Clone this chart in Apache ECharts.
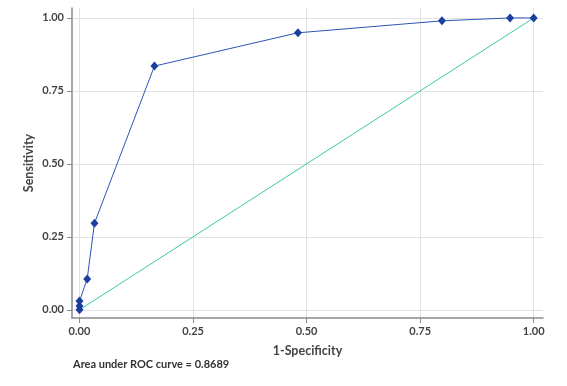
<!DOCTYPE html>
<html>
<head>
<meta charset="utf-8">
<script src="https://cdn.jsdelivr.net/npm/echarts@6/dist/echarts.min.js"></script>
<style>
  html, body { margin: 0; padding: 0; background: #fff; }
  #chart { width: 567px; height: 386px; }
</style>
</head>
<body>
<div id="chart"></div>
<script>
// ROC points
var fpr = [0, 0, 0, 0.017, 0.033, 0.165, 0.481, 0.798, 0.948, 1];
var tpr = [0, 0.013, 0.030, 0.106, 0.297, 0.835, 0.949, 0.990, 1.0, 1.0];
var refX = [0, 1];
var refY = [0, 1];
var tickValues = [0, 0.25, 0.5, 0.75, 1];
var aucText = 'Area under ROC curve = 0.8689';

var font = 'Lato';

var chart = echarts.init(document.getElementById('chart'));

var rocData = fpr.map(function (x, i) { return [x, tpr[i]]; });
var refData = refX.map(function (x, i) { return [x, refY[i]]; });

function axisBase(name, gap, extra) {
  var a = {
    type: 'value',
    name: name,
    nameLocation: 'middle',
    nameGap: gap,
    nameMoveOverlap: false,
    nameTextStyle: { color: '#444', fontSize: 12.5, fontWeight: 'bold', fontFamily: font },
    axisLine: { show: true, onZero: false, lineStyle: { color: '#8a8a8a', width: 1.5 } },
    axisTick: { show: true, length: 5, customValues: tickValues, lineStyle: { color: '#8a8a8a' } },
    axisLabel: {
      customValues: tickValues,
      color: '#444', fontSize: 11, fontWeight: 'bold', fontFamily: font,
      formatter: function (v) { return v.toFixed(2); }
    },
    splitLine: { show: true, lineStyle: { color: '#e2e2e2', width: 1 } }
  };
  return Object.assign(a, extra);
}

var option = {
  animation: false,
  grid: { left: 72, right: 24, top: 8, bottom: 68 },
  xAxis: axisBase('1-Specificity', 26, { min: -0.0165, max: 1.0205 }),
  yAxis: axisBase('Sensitivity', 37, { min: -0.028, max: 1.034 }),
  graphic: [{
    type: 'text',
    left: 73,
    top: 359,
    style: { text: aucText, fill: '#333', font: 'bold 11px Lato' }
  }],
  series: [
    {
      type: 'line',
      data: refData,
      symbol: 'none',
      lineStyle: { color: '#3cc8a8', width: 1 },
      z: 2
    },
    {
      type: 'line',
      data: rocData,
      symbol: 'diamond',
      symbolSize: [8, 9],
      itemStyle: { color: '#1a3f9e' },
      lineStyle: { color: '#2c55b5', width: 1 },
      z: 3
    }
  ]
};

chart.setOption(option);
</script>
</body>
</html>
